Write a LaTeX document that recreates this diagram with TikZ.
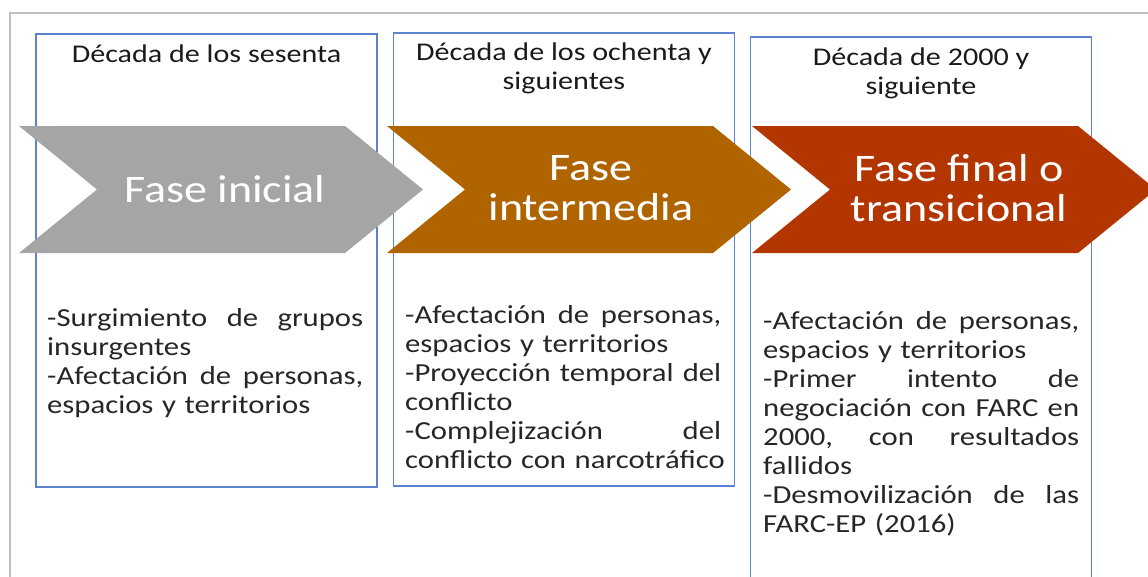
\documentclass[tikz,border=0pt]{standalone}
\usepackage{fontspec}
\setmainfont{Carlito}[FakeStretch=1.18]
\usepackage{xcolor}
\usetikzlibrary{positioning}
\definecolor{frameg}{HTML}{C0C0C0}
\definecolor{boxblue}{HTML}{5B83D0}
\definecolor{phA}{HTML}{A5A5A5}
\definecolor{phB}{HTML}{AF6400}
\definecolor{phC}{HTML}{B33600}
\definecolor{ink}{HTML}{1A1A1A}
\definecolor{ink2}{HTML}{262626}
\tikzset{
  period/.style={draw=boxblue,line width=1.3pt,minimum width=341pt,inner sep=0pt},
  header/.style={font=\fontsize{25.5}{28.5}\selectfont,text=ink,align=center,inner sep=0pt},
  phase/.style={font=\fontsize{39}{40}\selectfont,text=white,align=center,inner sep=0pt},
  items/.style={font=\fontsize{26}{29}\selectfont,text=ink2,text width=316pt,align=left,
    anchor=north west,inner sep=0pt}
}
\begin{document}
\begin{tikzpicture}[x=1pt,y=-1pt]
  \useasboundingbox (0,0) rectangle (1148,576);
  \clip (0,0) rectangle (1148,576);
  % outer frame of the figure
  \draw[frameg,line width=2pt] (9,13) -- (1160,13);
  \draw[frameg,line width=2pt] (10,13) -- (10,590);
  % period boxes
  \node[period,minimum height=453pt] (box1) at (206.5,260.5) {};
  \node[period,minimum height=453pt] (box2) at (564,259.5) {};
  \node[period,minimum height=580pt] (box3) at (921,327) {};
  \node[header] (head1) at ([yshift=-20pt]box1.north) {Década de los sesenta};
  \node[header] (head2) at ([yshift=-36pt]box2.north) {Década de los ochenta y\\siguientes};
  \node[header] (head3) at ([yshift=-37pt]box3.north) {Década de 2000 y\\siguiente};
  % chevrons: \chevron{left x}{colour}
  \def\chevron#1#2{\fill[#2] (#1,126) -- ({#1+326},126) -- ({#1+404},189.5) -- ({#1+326},253)
    -- (#1,253) -- ({#1+78},189.5) -- cycle;}
  \chevron{19}{phA}
  \chevron{387}{phB}
  \chevron{752}{phC}
  \node[phase] (ph1) at (225,189) {Fase inicial};
  \node[phase] (ph2) at (591,188) {Fase\\intermedia};
  \node[phase] (ph3) at (959,188) {Fase final o\\transicional};
  % stretched line of a justified paragraph
  \def\jl#1{\leavevmode\hbox to \hsize{#1}}
  \def\gap{\hfill}
  \node[items] (list1) at (47,308.5) {\jl{-Surgimiento\gap de\gap grupos}\\insurgentes\\
    \jl{-Afectación\gap de\gap personas,}\\espacios y territorios};
  \node[items] (list2) at (405,305.5) {\jl{-Afectación\gap de\gap personas,}\\espacios y territorios\\
    \jl{-Proyección\gap temporal\gap del}\\conflicto\\\jl{-Complejización\gap del}\\
    \mbox{conflicto con narcotráfico}};
  \node[items] (list3) at (763,311.5) {\jl{-Afectación\gap de\gap personas,}\\espacios y territorios\\
    \jl{-Primer\gap intento\gap de}\\\jl{negociación\gap con\gap FARC\gap en}\\\jl{2000,\gap con\gap resultados}\\fallidos\\
    \jl{-Desmovilización\gap de\gap las}\\FARC-EP (2016)};
\end{tikzpicture}
\end{document}
